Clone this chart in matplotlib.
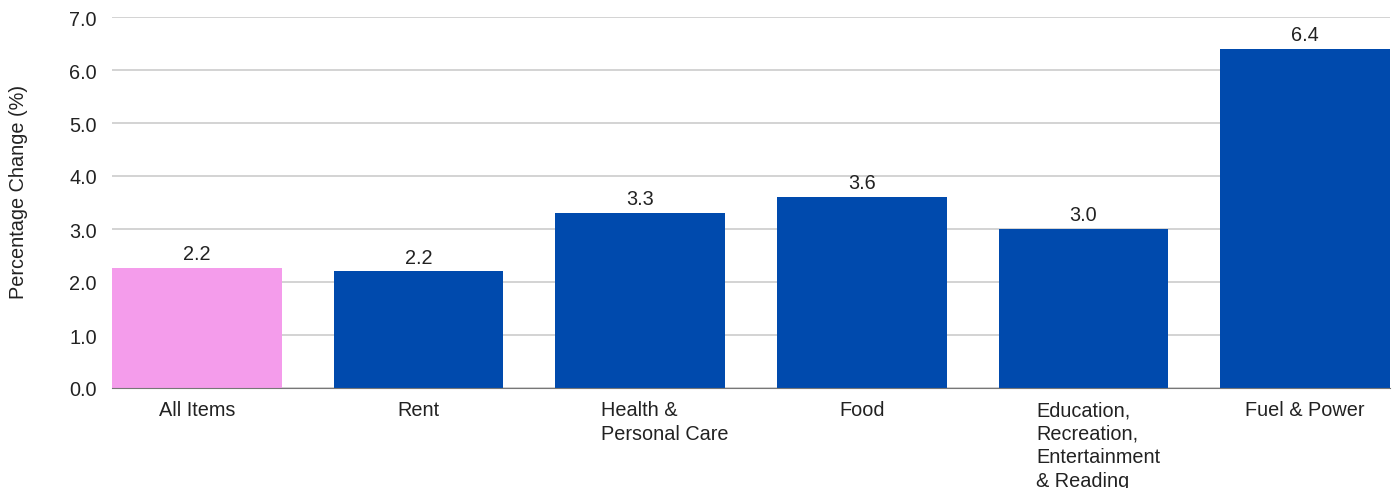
import matplotlib
matplotlib.use('Agg')
from matplotlib import pyplot as plt
from matplotlib.transforms import ScaledTranslation
import numpy as np

plt.rcParams['font.family'] = ['Liberation Sans', 'DejaVu Sans']

categories = ['All Items', 'Rent', 'Health &\nPersonal Care', 'Food',
              'Education,\nRecreation,\nEntertainment\n& Reading', 'Fuel & Power']
values = [2.27, 2.2, 3.3, 3.6, 3.0, 6.4]
value_labels = ['2.2', '2.2', '3.3', '3.6', '3.0', '6.4']
colors = ['#F49CEB', '#004AAD', '#004AAD', '#004AAD', '#004AAD', '#004AAD']

fs = 14.3
txt = '#222222'

fig = plt.figure(figsize=(13.97, 4.89), dpi=100)
ax = fig.add_axes([112/1397, 1-389/489, (1390-112)/1397, (389-18)/489])

x = np.arange(len(categories))
w = 0.766
ax.bar(x, values, width=w, color=colors, zorder=2)
for xi, v, lab in zip(x, values, value_labels):
    ax.text(xi, v + 0.09, lab, ha='center', va='bottom', fontsize=fs, color=txt)

ax.set_xlim(-w/2, len(categories) - 1 + w/2)
ax.set_ylim(0, 7)
yt = np.arange(0, 7.1, 1.0)
ax.set_yticks(yt)
ax.set_yticklabels(['%.1f' % t for t in yt], fontsize=fs, color=txt)
ax.set_xticks(x)
ax.set_xticklabels(categories, fontsize=fs, color=txt, va='top', linespacing=1.3)
ax.tick_params(axis='both', length=0)
ax.tick_params(axis='x', pad=9)
ax.tick_params(axis='y', pad=11)

# wrapped labels are left aligned, shifted a bit left of the bar centre
for lab in ax.get_xticklabels():
    if '\n' in lab.get_text():
        lab.set_horizontalalignment('left')
        lab.set_multialignment('left')
        shift = -0.39 if lab.get_text().startswith('Health') else -0.47
        lab.set_transform(lab.get_transform() + ScaledTranslation(shift, 0, fig.dpi_scale_trans))

ax.grid(axis='y', color='#cccccc', linewidth=1.2, zorder=0)
for s in ['top', 'right', 'left']:
    ax.spines[s].set_visible(False)
ax.spines['bottom'].set_color('#777777')
ax.spines['bottom'].set_zorder(3)
ax.set_ylabel('Percentage Change (%)', fontsize=fs, color=txt)
ax.yaxis.set_label_coords(-84/1278, 0.53)

fig.savefig('out.png', dpi=100)
